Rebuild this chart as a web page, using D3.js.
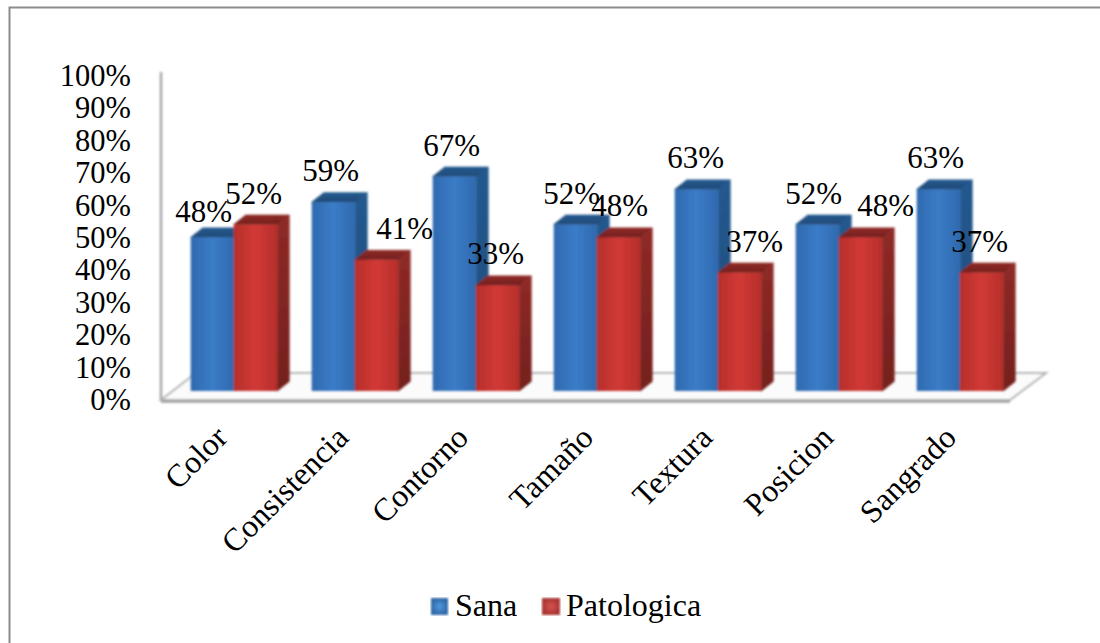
<!DOCTYPE html>
<html><head><meta charset="utf-8">
<script src="https://cdn.jsdelivr.net/npm/d3@7/dist/d3.min.js"></script>
<style>html,body{margin:0;padding:0;background:#fff}svg{display:block}text{font-family:"Liberation Serif",serif;fill:#000}</style>
</head><body>
<svg id="c" width="1100" height="643"></svg>
<script>
const categories = ["Color","Consistencia","Contorno","Tamaño","Textura","Posicion","Sangrado"];
const sana = [48,59,67,52,63,52,63];
const patologica = [52,41,33,48,37,48,37];
const yTicks = [0,10,20,30,40,50,60,70,80,90,100];
const seriesNames = ["Sana","Patologica"];

const svg = d3.select("#c");
const y = d3.scaleLinear().domain([0,100]).range([391,71]);
const groupX = d3.scaleLinear().domain([0,6]).range([190.7,916.7]);
const barW = 43.5, dx = 12, dy = 9.5;

const defs = svg.append("defs");
function vgrad(id, stops){
  const g = defs.append("linearGradient").attr("id",id).attr("x1",0).attr("x2",0).attr("y1",0).attr("y2",1);
  stops.forEach(([o,c])=>g.append("stop").attr("offset",o).attr("stop-color",c));
}
function hgrad(id, stops){
  const g = defs.append("linearGradient").attr("id",id).attr("x1",0).attr("x2",1).attr("y1",0).attr("y2",0);
  stops.forEach(([o,c])=>g.append("stop").attr("offset",o).attr("stop-color",c));
}
hgrad("fb",[[0,"#2f69ae"],[0.5,"#3b7cc8"],[1,"#2f69ae"]]);
vgrad("sb",[[0,"#24598f"],[1,"#1f4a78"]]);
hgrad("fr",[[0,"#b52e2a"],[0.5,"#d23a36"],[1,"#b52e2a"]]);
vgrad("sr",[[0,"#8f2a26"],[1,"#74201e"]]);
const soft = defs.append("filter").attr("id","soft").attr("x","-5%").attr("y","-5%").attr("width","110%").attr("height","110%");
soft.append("feGaussianBlur").attr("stdDeviation",0.8);
const lg1 = defs.append("radialGradient").attr("id","lb");
lg1.append("stop").attr("offset",0).attr("stop-color","#4f9be0");
lg1.append("stop").attr("offset",1).attr("stop-color","#2f66a6");
const lg2 = defs.append("radialGradient").attr("id","lr");
lg2.append("stop").attr("offset",0).attr("stop-color","#d65350");
lg2.append("stop").attr("offset",1).attr("stop-color","#a93431");

// sheet edge: top and left rules only
svg.append("path").attr("d","M9.5,643V7.5H1100").attr("fill","none").attr("stroke","#8c8c8c").attr("stroke-width",2);

// back wall edge and floor slab
const chart = svg.append("g").attr("filter","url(#soft)");
chart.append("line").attr("x1",161).attr("x2",161).attr("y1",72).attr("y2",400).attr("stroke","#a6a6a6").attr("stroke-width",2.5);
chart.append("path").attr("d","M161,400H1010L1046,373H196Z").attr("fill","#fbfbfb").attr("stroke","#b4b4b4").attr("stroke-width",2);
chart.append("line").attr("x1",161).attr("x2",1010).attr("y1",401.5).attr("y2",401.5).attr("stroke","#a0a0a0").attr("stroke-width",2.5);

function prism(g, xl, v, front, side){
  const yt = y(v), yb = y(0), xr = xl + barW;
  g.append("path").attr("d",`M${xr},${yt}L${xr+dx},${yt-dy}V${yb-dy}L${xr},${yb}Z`).attr("fill",`url(#${side})`).attr("stroke",`url(#${side})`).attr("stroke-width",0.8).attr("stroke-linejoin","round");
  g.append("path").attr("d",`M${xl},${yt}L${xl+dx},${yt-dy}H${xr+dx}L${xr},${yt}Z`).attr("fill",`url(#${side})`).attr("stroke",`url(#${side})`).attr("stroke-width",0.8).attr("stroke-linejoin","round");
  g.append("rect").attr("x",xl).attr("y",yt).attr("width",barW).attr("height",yb-yt).attr("fill",`url(#${front})`);
}
const bars = svg.append("g").attr("filter","url(#soft)");
categories.forEach((c,i)=>{
  const gx = groupX(i);
  const g = bars.append("g");
  prism(g, gx, sana[i], "fb","sb");
  prism(g, gx+barW-0.5, patologica[i], "fr","sr");
});

// value axis labels
const axisY = d3.scaleLinear().domain([0,100]).range([410,86]);
svg.append("g").selectAll("text").data(yTicks).join("text")
  .attr("x",131).attr("y",d=>axisY(d)).attr("text-anchor","end")
  .attr("font-size",30.5).text(d=>d+"%");

// data labels, nudged by hand where a neighbouring bar would cover them
const sanaNudge = [13,19,19,18,21,18,19];
const patNudge = [63,93,63,66,80,90,63];
svg.append("g").selectAll("text").data(sana).join("text")
  .attr("x",(d,i)=>groupX(i)+sanaNudge[i]).attr("y",(d,i)=>y(d)-(i===0?15:21)).attr("text-anchor","middle")
  .attr("font-size",31).text(d=>d+"%");
svg.append("g").selectAll("text").data(patologica).join("text")
  .attr("x",(d,i)=>groupX(i)+patNudge[i]).attr("y",d=>y(d)-21).attr("text-anchor","middle")
  .attr("font-size",31).text(d=>d+"%");

// category labels, slanted
const catNudge = [0,0,-1,3,1,1,3];
svg.append("g").selectAll("text").data(categories).join("text")
  .attr("transform",(d,i)=>`translate(${groupX(i)+31+catNudge[i]},${432}) rotate(-45)`)
  .attr("text-anchor","end").attr("dy","0.33em")
  .attr("font-size",32).text(d=>d);

// legend
const leg = svg.append("g");
leg.append("rect").attr("x",431).attr("y",598).attr("width",17).attr("height",17).attr("fill","url(#lb)").attr("filter","url(#soft)");
leg.append("text").attr("x",455).attr("y",616).attr("font-size",32).text(seriesNames[0]);
leg.append("rect").attr("x",542).attr("y",598).attr("width",18).attr("height",17).attr("fill","url(#lr)").attr("filter","url(#soft)");
leg.append("text").attr("x",566).attr("y",616).attr("font-size",32).text(seriesNames[1]);
</script>
</body></html>
